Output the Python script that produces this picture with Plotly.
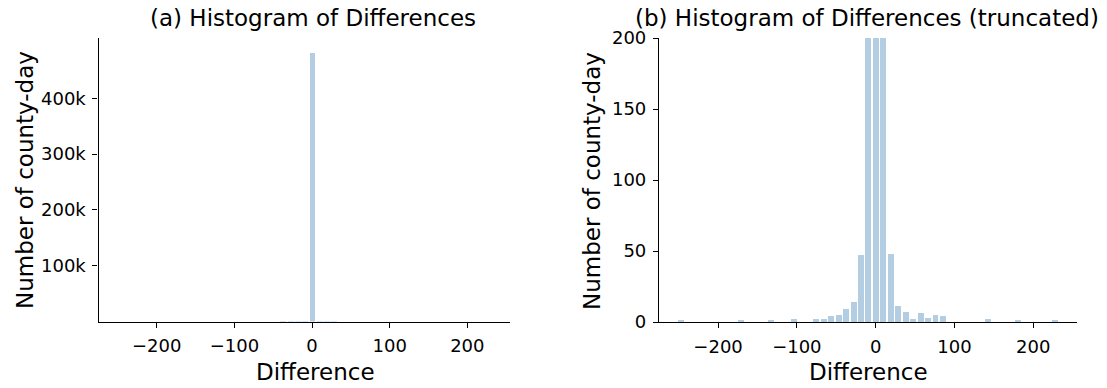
import plotly.graph_objects as go

# Bin centers (difference values) and counts per bin
diff_centers = [-247, -171, -133, -104, -76, -66, -57, -47, -38, -28, -19, -9.5, 0,
                9.5, 19, 28, 38, 47, 57, 66, 76, 85, 142.5, 180.5, 228]
counts = [1, 1, 1, 2, 2, 2, 4, 5, 9, 14, 47, 530, 483000,
          510, 48, 11, 7, 2, 6, 3, 5, 4, 2, 1, 1]
bin_width = 9.47

left_yticks = [100000, 200000, 300000, 400000]
left_yticklabels = ["100k", "200k", "300k", "400k"]
right_yticks = [0, 50, 100, 150, 200]
xticks = [-200, -100, 0, 100, 200]
xticklabels = ["\u2212200", "\u2212100", "0", "100", "200"]

W, H = 1107, 388
FONT = "DejaVu Sans"
BAR_COLOR = "rgb(179,205,227)"

fig = go.Figure()
for ax in ["", "2"]:
    fig.add_trace(go.Bar(
        x=diff_centers, y=counts, width=[bin_width * 0.8] * len(diff_centers),
        marker=dict(color=BAR_COLOR, line=dict(width=0)),
        xaxis="x" + ax, yaxis="y" + ax, showlegend=False, hoverinfo="x+y"))

axis_common = dict(showline=True, linecolor="black", linewidth=1.2, ticks="outside",
                   ticklen=5, tickwidth=1.2, tickcolor="black", showgrid=False,
                   zeroline=False, automargin=False, ticklabelstandoff=3,
                   tickfont=dict(family=FONT, size=18, color="black"))

def px_x(p):
    return p / W

def px_y(p):
    return 1 - p / H

fig.update_layout(
    template="none",
    width=W, height=H, margin=dict(l=0, r=0, t=0, b=0, pad=0, autoexpand=False),
    paper_bgcolor="white", plot_bgcolor="white",
    font=dict(family=FONT, color="black"),
    xaxis=dict(domain=[px_x(98.5), px_x(510)], range=[-275, 255], anchor="y",
               tickvals=xticks, ticktext=xticklabels, **axis_common),
    yaxis=dict(domain=[px_y(321.5), px_y(37.5)], range=[0, 509000], anchor="x",
               tickvals=left_yticks, ticktext=left_yticklabels, **axis_common),
    xaxis2=dict(domain=[px_x(659), px_x(1076.5)], range=[-275, 255], anchor="y2",
                tickvals=xticks, ticktext=xticklabels, **axis_common),
    yaxis2=dict(domain=[px_y(322), px_y(38)], range=[0, 200], anchor="x2",
                tickvals=right_yticks, **axis_common),
    bargap=0,
)

annots = [
    dict(text="(a) Histogram of Differences", x=px_x(313), y=px_y(18), size=23),
    dict(text="(b) Histogram of Differences (truncated)", x=px_x(867), y=px_y(18), size=23),
    dict(text="Difference", x=px_x(315), y=px_y(372), size=23),
    dict(text="Difference", x=px_x(868), y=px_y(372), size=23),
    dict(text="Number of county-day", x=px_x(25), y=px_y(180), size=23, angle=-90),
    dict(text="Number of county-day", x=px_x(592), y=px_y(181), size=23, angle=-90),
]
for a in annots:
    fig.add_annotation(text=a["text"], x=a["x"], y=a["y"], xref="paper", yref="paper",
                       xanchor="center", yanchor="middle", showarrow=False,
                       textangle=a.get("angle", 0),
                       font=dict(family=FONT, size=a["size"], color="black"))

fig.write_html("out.html")
